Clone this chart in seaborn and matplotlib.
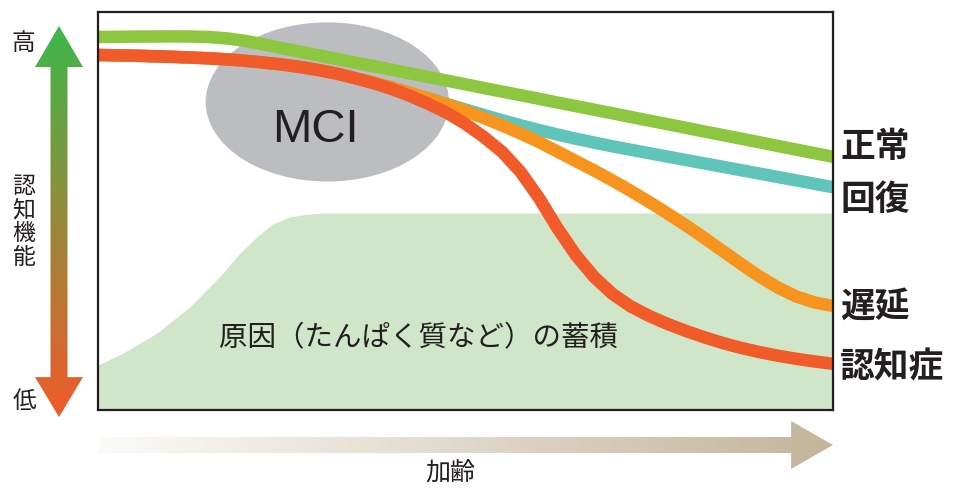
import numpy as np
import pandas as pd
import matplotlib
matplotlib.use("Agg")
import matplotlib.pyplot as plt
from matplotlib.patches import Ellipse, Polygon
from matplotlib.colors import to_rgb
import seaborn as sns

# ---------------- data ----------------
age = [0, 2.5, 5, 7.5, 10, 12.5, 15, 17.5, 20, 22.5, 25, 27.5, 30, 32.5, 35,
       37.5, 40, 42.5, 45, 47.5, 50, 52.5, 55, 57.5, 60, 62.5, 65, 67.5, 70,
       72.5, 75, 77.5, 80, 82.5, 85, 87.5, 90, 92.5, 95, 97.5, 100]
normal = [93.72, 93.77, 93.82, 93.84, 93.87, 93.84, 93.72, 93.37, 92.76, 91.88,
          90.93, 90.03, 89.12, 88.19, 87.29, 86.38, 85.48, 84.55, 83.64, 82.74,
          81.83, 80.90, 80.00, 79.10, 78.19, 77.26, 76.36, 75.45, 74.55, 73.62,
          72.71, 71.81, 70.90, 69.97, 69.07, 68.17, 67.26, 66.33, 65.43, 64.52,
          63.62]
recovery = [89.20, 89.12, 89.02, 88.89, 88.74, 88.57, 88.37, 88.09, 87.74, 87.31,
            86.81, 86.18, 85.43, 84.50, 83.37, 82.29, 81.03, 79.65, 78.27, 76.88,
            75.50, 74.12, 72.79, 71.53, 70.35, 69.22, 68.17, 67.19, 66.26, 65.38,
            64.52, 63.67, 62.81, 61.96, 61.11, 60.25, 59.40, 58.54, 57.69, 56.83,
            55.98]
delayed = [89.20, 89.12, 89.02, 88.89, 88.74, 88.57, 88.37, 88.09, 87.74, 87.31,
           86.81, 86.18, 85.43, 84.50, 83.37, 82.29, 81.03, 79.65, 78.27, 76.76,
           75.13, 73.37, 71.48, 69.47, 67.34, 64.95, 62.56, 60.18, 57.66, 55.03,
           52.26, 49.37, 46.36, 43.22, 39.95, 36.68, 33.54, 30.78, 28.52, 27.01,
           26.13]
dementia = [89.20, 89.12, 89.02, 88.89, 88.74, 88.57, 88.37, 88.09, 87.74, 87.31,
            86.81, 86.18, 85.43, 84.50, 83.37, 82.11, 80.65, 78.89, 76.88, 74.62,
            71.86, 68.59, 64.82, 59.80, 53.27, 45.73, 38.94, 33.42, 29.15, 26.01,
            23.62, 21.61, 19.85, 18.27, 16.83, 15.60, 14.55, 13.64, 12.86, 12.19,
            11.61]

accum_x = [0, 3.4, 8.0, 12.5, 14.8, 17.0, 19.3, 21.6, 23.8, 26.1, 28.4, 30.6, 100]
accum_y = [11.3, 14.3, 19.3, 25.9, 30.2, 34.4, 39.4, 43.5, 46.8, 48.5, 49.2, 49.5, 49.5]

mci_center = (31.2, 77.4)
mci_size = (33.1, 40.0)

series_names = ["回復", "遅延", "認知症", "正常"]
series_values = [recovery, delayed, dementia, normal]
series_colors = ["#5fc5ba", "#f7941d", "#f15a29", "#8dc63f"]
label_y = {"正常": 66.3, "回復": 53.0, "遅延": 26.1, "認知症": 10.7}

accum_label = "原因（たんぱく質など）の蓄積"
y_high, y_label, y_low = "高", "認知機能", "低"
x_label = "加齢"

# ---------------- style ----------------
sns.set_style("white")
plt.rcParams["font.family"] = ["Noto Sans CJK JP", "DejaVu Sans"]
ink = "#231f20"

W, H = 955, 488
fig = plt.figure(figsize=(W / 100, H / 100), dpi=100)
ax = fig.add_axes([98 / W, 78 / H, 735 / W, 398 / H])
ax.set_xlim(0, 100)
ax.set_ylim(0, 100)
ax.set_xticks([])
ax.set_yticks([])
for s in ax.spines.values():
    s.set_color(ink)
    s.set_linewidth(1.6)
    s.set_zorder(20)

# accumulation area
ax.fill_between(accum_x, accum_y, 0, color="#d0e6c9", lw=0, zorder=1)
ax.text(43.6, 18.1, accum_label, fontsize=20.5, color=ink, ha="center",
        va="center", zorder=3)

# MCI ellipse
ax.add_patch(Ellipse(mci_center, mci_size[0], mci_size[1], facecolor="#bcbdc0",
                     edgecolor="none", zorder=2))
ax.text(29.6, 67.3, "MCI", fontfamily="Liberation Sans", fontsize=34,
        color=ink, ha="center", va="baseline", zorder=3)

# lines
for i, (name, vals, col) in enumerate(zip(series_names, series_values, series_colors)):
    df = pd.DataFrame({"age": age, "value": vals})
    sns.lineplot(data=df, x="age", y="value", ax=ax, color=col, linewidth=9,
                 sort=False, zorder=5 + i, solid_capstyle="butt",
                 solid_joinstyle="round")
    ax.text(101.0, label_y[name], name, fontsize=25, fontweight="bold",
            color=ink, ha="left", va="center", clip_on=False)

ax.set_xlabel("")
ax.set_ylabel("")
ax.set_xlim(0, 100)
ax.set_ylim(0, 100)

# ---------------- vertical gradient arrow ----------------
axv = fig.add_axes([35 / W, (H - 417) / H, 48 / W, 391 / H])
axv.set_xlim(0, 1)
axv.set_ylim(0, 1)
axv.axis("off")
c_bot = np.array(to_rgb("#f15a2b"))
c_top = np.array(to_rgb("#3cb84a"))
t = np.linspace(0, 1, 256)[:, None]
grad = (c_bot[None, :] * (1 - t) + c_top[None, :] * t)[:, None, :]
im = axv.imshow(grad, extent=[0, 1, 0, 1], origin="lower", aspect="auto")
sx0, sx1, hb, ht = 0.323, 0.677, 0.102, 0.895
poly = Polygon([(0.5, 1), (1, ht), (sx1, ht), (sx1, hb), (1, hb), (0.5, 0),
                (0, hb), (sx0, hb), (sx0, ht), (0, ht)], closed=True,
               transform=axv.transData, facecolor="none", edgecolor="none")
axv.add_patch(poly)
im.set_clip_path(poly)

# ---------------- horizontal gradient arrow ----------------
axh = fig.add_axes([98 / W, (H - 469) / H, 735 / W, 48 / H])
axh.set_xlim(0, 1)
axh.set_ylim(0, 1)
axh.axis("off")
c_l = np.array(to_rgb("#fcfbf9"))
c_r = np.array(to_rgb("#c4b59b"))
u = np.linspace(0, 1, 256)[None, :, None]
gradh = c_l[None, None, :] * (1 - u) + c_r[None, None, :] * u
imh = axh.imshow(gradh, extent=[0, 1, 0, 1], origin="lower", aspect="auto")
hx = 0.943
polyh = Polygon([(0, 0.333), (hx, 0.333), (hx, 0), (1, 0.5), (hx, 1),
                 (hx, 0.667), (0, 0.667)], closed=True, transform=axh.transData,
                facecolor="none", edgecolor="none")
axh.add_patch(polyh)
imh.set_clip_path(polyh)

# ---------------- side texts ----------------
fig.text(23 / W, 1 - 43 / H, y_high, fontsize=17, color=ink, ha="center", va="center")
fig.text(24 / W, 1 - 402 / H, y_low, fontsize=17, color=ink, ha="center", va="center")
fig.text(24 / W, 1 - 222 / H, "\n".join(y_label), fontsize=16.5, color=ink,
         ha="center", va="center", linespacing=1.05)
fig.text(450 / W, 1 - 474 / H, x_label, fontsize=18, color=ink, ha="center",
         va="center")

fig.savefig("out.png", dpi=100)
